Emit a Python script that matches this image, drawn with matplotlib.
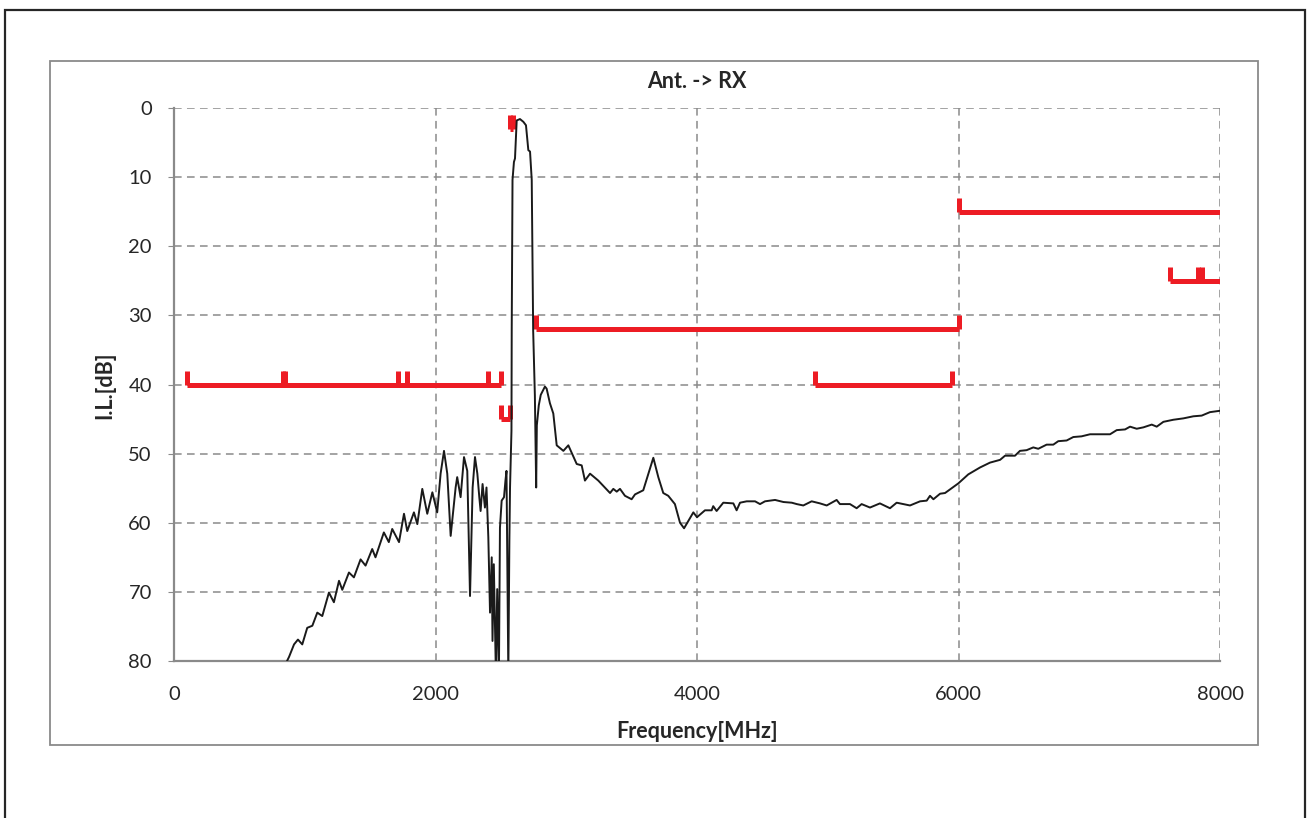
import matplotlib
matplotlib.use("Agg")
import matplotlib.pyplot as plt
from matplotlib.patches import Rectangle

plt.rcParams["font.family"] = ["Lato", "DejaVu Sans"]

# ── measured insertion loss, Ant. -> RX ──────────────────────────────────────
FREQ = [830, 854, 880, 918, 948, 981, 1019, 1058, 1096, 1134, 1185, 1223, 1262,
        1287, 1338, 1376, 1427, 1465, 1516, 1541, 1605, 1643, 1669, 1721, 1759,
        1784, 1835, 1861, 1899, 1937, 1976, 2013, 2039, 2065, 2090, 2116, 2154,
        2166, 2192, 2218, 2243, 2264, 2284, 2302, 2320, 2335, 2345, 2360, 2378,
        2390, 2404, 2417, 2430, 2436, 2446, 2462, 2472, 2485, 2493, 2506, 2524,
        2535, 2543, 2557, 2565, 2570, 2581, 2583, 2589, 2600, 2608, 2621, 2646,
        2672, 2692, 2710, 2723, 2736, 2747, 2760, 2770, 2775, 2790, 2805, 2837,
        2850, 2875, 2901, 2927, 2978, 3016, 3080, 3118, 3143, 3182, 3245, 3335,
        3360, 3386, 3411, 3449, 3500, 3526, 3589, 3666, 3704, 3742, 3780, 3831,
        3870, 3901, 3972, 4000, 4061, 4112, 4124, 4150, 4201, 4278, 4303, 4329,
        4380, 4444, 4482, 4520, 4597, 4661, 4725, 4763, 4813, 4877, 4941, 4992,
        5068, 5093, 5170, 5221, 5259, 5323, 5399, 5476, 5527, 5629, 5706, 5757,
        5782, 5808, 5859, 5897, 5999, 6075, 6165, 6241, 6318, 6356, 6432, 6470,
        6521, 6572, 6610, 6674, 6725, 6763, 6827, 6878, 6941, 7006, 7159, 7210,
        7274, 7312, 7363, 7414, 7478, 7516, 7567, 7643, 7720, 7796, 7860, 7923,
        8000]
IL_DB = [82.0, 80.4, 79.4, 77.6, 76.9, 77.6, 75.2, 74.9, 73.0, 73.5, 70.1, 71.5,
         68.4, 69.7, 67.2, 67.9, 65.3, 66.2, 63.8, 65.0, 61.4, 62.8, 60.9, 62.8,
         58.7, 61.2, 58.5, 60.2, 55.1, 58.7, 55.6, 58.5, 52.9, 49.6, 52.9, 61.9,
         54.9, 53.4, 56.3, 50.5, 52.5, 70.6, 54.9, 50.5, 52.9, 56.3, 58.3, 54.4,
         57.8, 54.9, 62.1, 73.0, 65.0, 77.1, 66.0, 82.0, 69.6, 82.0, 60.7, 56.8,
         56.3, 53.9, 52.5, 82.0, 62.6, 54.9, 46.7, 32.0, 10.4, 7.8, 7.3, 1.8, 1.6,
         2.0, 2.5, 6.1, 6.3, 10.4, 32.2, 41.6, 54.9, 45.9, 43.0, 41.5, 40.3, 40.6,
         42.7, 44.2, 48.8, 49.6, 48.8, 51.5, 51.7, 53.9, 52.9, 53.9, 55.7, 55.1,
         55.5, 55.1, 56.1, 56.6, 55.9, 55.3, 50.6, 53.4, 55.7, 56.1, 57.3, 60.0,
         60.8, 58.5, 59.2, 58.2, 58.2, 57.6, 58.3, 57.1, 57.2, 58.2, 57.1, 56.9,
         56.9, 57.3, 56.9, 56.7, 57.0, 57.1, 57.3, 57.5, 56.9, 57.2, 57.5, 56.7,
         57.3, 57.3, 57.9, 57.3, 57.8, 57.2, 57.9, 57.1, 57.5, 56.9, 56.8, 56.1,
         56.6, 55.8, 55.7, 54.3, 53.0, 52.0, 51.3, 50.9, 50.3, 50.3, 49.6, 49.5,
         49.1, 49.3, 48.7, 48.7, 48.2, 48.1, 47.6, 47.5, 47.2, 47.2, 46.6, 46.5,
         46.1, 46.4, 46.2, 45.8, 46.1, 45.4, 45.1, 44.9, 44.6, 44.5, 44.0, 43.8]

# ── spec masks: start, end, level (dB), tick positions (2 dB up-ticks) ───────
MASK_START = [100, 2500, 2570, 2770, 4900, 6000, 7620]
MASK_END   = [2500, 2570, 2595, 6000, 5950, 8100, 8100]
MASK_LEVEL = [40, 45, 3, 32, 40, 15, 25]
MASK_TICKS = [[100, 830, 850, 1710, 1785, 2400, 2500],
              [2500, 2570],
              [2570, 2595],
              [2770, 6000],
              [4900, 5950],
              [6000],
              [7620, 7835, 7865]]
TICK_H = 2

XTICKS = [0, 2000, 4000, 6000, 8000]
YTICKS = [0, 10, 20, 30, 40, 50, 60, 70, 80]

RED = "#ed1c24"
GRAY = "#8a8a8a"
TXT = "#262626"

fig = plt.figure(figsize=(13.1, 8.18), dpi=100)
ax = fig.add_axes([174 / 1310, 1 - 661 / 818, 1046 / 1310, 553 / 818])

for s, e, lvl, ticks in zip(MASK_START, MASK_END, MASK_LEVEL, MASK_TICKS):
    ax.plot([s, e], [lvl, lvl], color=RED, lw=3.6, solid_capstyle="butt", zorder=3)
    for t in ticks:
        ax.plot([t, t], [lvl, lvl - TICK_H], color=RED, lw=3.6,
                solid_capstyle="butt", zorder=3)

ax.plot(FREQ, IL_DB, color="#1a1a1a", lw=1.4, zorder=4)

ax.set_xlim(0, 8000)
ax.set_ylim(80, 0)
ax.set_xticks(XTICKS)
ax.set_yticks(YTICKS)
ax.grid(True, color=GRAY, lw=1.1, linestyle=(0, (5, 3.5)))
ax.set_axisbelow(True)
for side in ["top", "right"]:
    ax.spines[side].set_visible(False)
for side in ["left", "bottom"]:
    ax.spines[side].set_color(GRAY)
    ax.spines[side].set_linewidth(1.6)
ax.tick_params(axis="x", length=0, pad=18, labelsize=14.5, colors=TXT)
ax.tick_params(axis="y", length=4, pad=12, labelsize=14.5, colors=TXT,
               color=GRAY)

fig.text(697 / 1310, 1 - 82 / 818, "Ant. -> RX", ha="center", va="center",
         fontsize=15.5, fontweight="bold", color=TXT)
fig.text(697 / 1310, 1 - 731 / 818, "Frequency[MHz]", ha="center", va="center",
         fontsize=15.5, fontweight="bold", color=TXT)
fig.text(105 / 1310, 1 - 385 / 818, "I.L.[dB]", ha="center", va="center",
         rotation=90, fontsize=15.5, fontweight="bold", color=TXT)

# chart area frame + outer frame
fig.add_artist(Rectangle((50 / 1310, 1 - 745 / 818), 1208 / 1310, 684 / 818,
                         transform=fig.transFigure, fill=False, ec=GRAY, lw=1.3))
fig.add_artist(Rectangle((5 / 1310, -0.05), 1300 / 1310, 1.05 - 10 / 818,
                         transform=fig.transFigure, fill=False, ec=TXT, lw=1.6))

fig.savefig("out.png", dpi=100)
